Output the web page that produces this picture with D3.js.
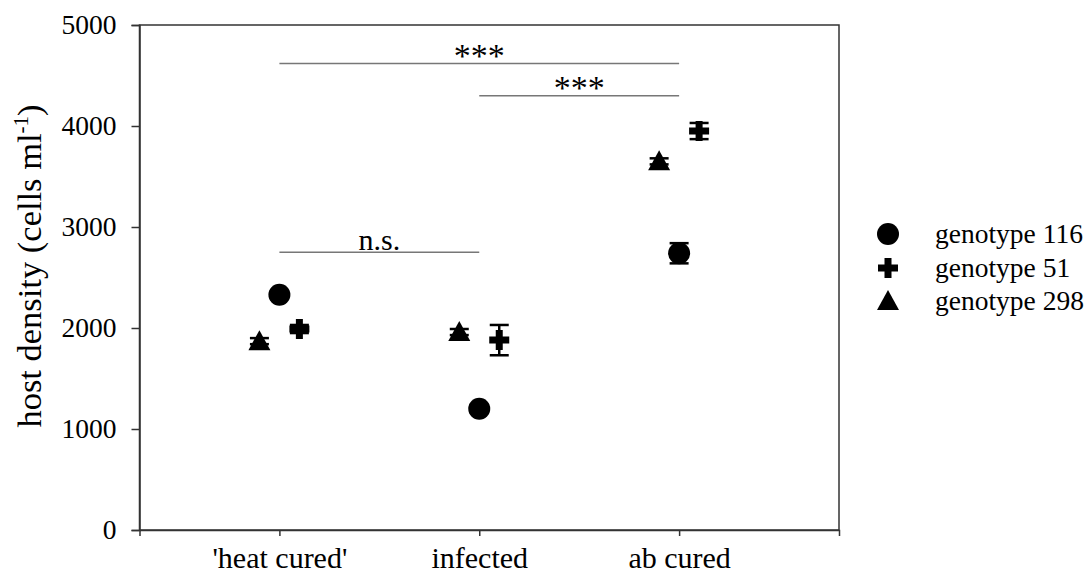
<!DOCTYPE html>
<html><head><meta charset="utf-8">
<script src="https://cdn.jsdelivr.net/npm/d3@7"></script>
<style>body{margin:0;background:#fff}text{font-family:"Liberation Serif","Times New Roman",serif;fill:#000}</style>
</head><body><svg id="c" width="1087" height="576"></svg>
<script>
const categories = ["'heat cured'", "infected", "ab cured"];
const genotypes = ["genotype 116", "genotype 51", "genotype 298"];
const g116 = [2330, 1200, 2740];
const g116Err = [30, 40, 100];
const g51 = [1990, 1880, 3950];
const g51Err = [40, 150, 80];
const g298 = [1870, 1960, 3650];
const g298Err = [30, 30, 30];
const yTicks = [0, 1000, 2000, 3000, 4000, 5000];
const sigPairs = [[0, 2, 4620, "***"], [1, 2, 4300, "***"], [0, 1, 2750, "n.s."]];

const svg = d3.select("#c");
const L = 139.5, R = 839, T = 25, B = 530;
const x = d3.scaleLinear().domain([0.3, 3.8]).range([L, R]);
const y = d3.scaleLinear().domain([0, 5000]).range([B, T]);

svg.append("rect").attr("x", L).attr("y", T).attr("width", R - L).attr("height", B - T)
  .attr("fill", "none").attr("stroke", "#333").attr("stroke-width", 1.5);

const yAx = svg.append("g").attr("transform", `translate(${L},0)`)
  .call(d3.axisLeft(y).tickValues(yTicks).tickFormat(d3.format("d")).tickSize(8).tickPadding(15));
const xAx = svg.append("g").attr("transform", `translate(0,${B})`)
  .call(d3.axisBottom(x).tickValues([1, 2, 3]).tickFormat((d) => categories[d - 1]).tickSize(6).tickPadding(11));
[yAx, xAx].forEach(a => {
  a.attr("font-family", "Liberation Serif");
  a.select(".domain").attr("stroke", "#333").attr("stroke-width", 1.5);
  a.selectAll(".tick line").attr("stroke", "#333").attr("stroke-width", 1.5);
  a.selectAll("text").attr("font-size", 27.5).attr("fill", "#000");
});
xAx.selectAll("text").attr("font-size", 30);

const yt = svg.append("text").attr("transform", `translate(41,${266}) rotate(-90)`)
  .attr("text-anchor", "middle").attr("font-size", 34.5);
yt.append("tspan").text("host density (cells ml");
yt.append("tspan").text("-1").attr("font-size", 21).attr("dy", -13);
yt.append("tspan").text(")").attr("dy", 13);

sigPairs.forEach(([a, b, v, lab]) => {
  const ly = y(v);
  svg.append("line").attr("x1", x(a + 1)).attr("x2", x(b + 1)).attr("y1", ly).attr("y2", ly)
    .attr("stroke", "#777").attr("stroke-width", 1.5);
  const star = lab === "***";
  svg.append("text").attr("x", (x(a + 1) + x(b + 1)) / 2)
    .attr("y", star ? ly - 13.5 + 0.49 * 34 : ly - 2)
    .attr("text-anchor", "middle").attr("font-size", star ? 34 : 30).text(lab);
});

const circle = d3.symbol().type(d3.symbolCircle).size(Math.PI * 11 * 11)();
const cross = "M-3.5,-10H3.5V-3.5H10V3.5H3.5V10H-3.5V3.5H-10V-3.5H-3.5Z";
const tri = "M0,-11L11,9H-11Z";
const series = [
  {vals: g116, err: g116Err, off: 0, path: circle},
  {vals: g51, err: g51Err, off: 0.1, path: cross},
  {vals: g298, err: g298Err, off: -0.1, path: tri}
];
series.forEach(s => {
  const g = svg.append("g");
  s.vals.forEach((v, i) => {
    const cx = x(i + 1 + s.off);
    const e = s.err[i];
    g.append("line").attr("x1", cx).attr("x2", cx).attr("y1", y(v - e)).attr("y2", y(v + e)).attr("stroke", "#000").attr("stroke-width", 2.5);
    [v - e, v + e].forEach(ev => g.append("line").attr("x1", cx - 9.5).attr("x2", cx + 9.5)
      .attr("y1", y(ev)).attr("y2", y(ev)).attr("stroke", "#000").attr("stroke-width", 2.5));
    g.append("path").attr("d", s.path).attr("transform", `translate(${cx},${y(v)})`).attr("fill", "#000");
  });
});

const legY = [234, 268, 301];
series.forEach((s, i) => {
  svg.append("path").attr("d", s.path).attr("transform", `translate(888,${legY[i]})`).attr("fill", "#000");
  svg.append("text").attr("x", 935).attr("y", legY[i] + 9).attr("font-size", 27.5).text(genotypes[i]);
});
</script></body></html>
